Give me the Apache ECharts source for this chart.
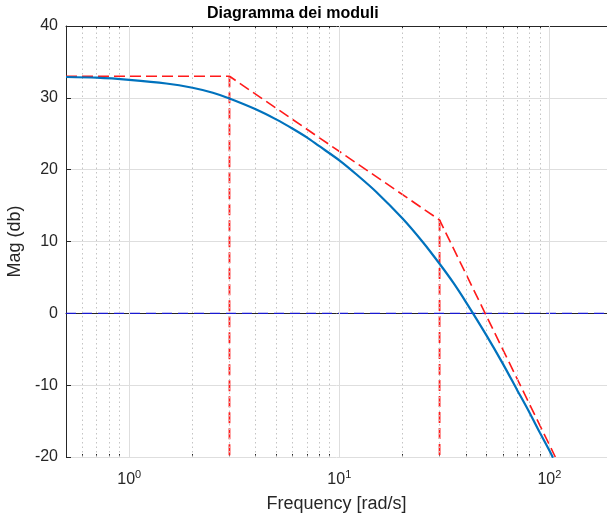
<!DOCTYPE html>
<html>
<head>
<meta charset="utf-8">
<script src="https://cdn.jsdelivr.net/npm/echarts@6/dist/echarts.min.js"></script>
<style>html,body{margin:0;padding:0;background:#fff;}#c{width:607px;height:513px;}</style>
</head>
<body>
<div id="c"></div>
<script>
// Magnitude curve
const freq = [0.5, 0.7, 1, 1.5, 2, 2.5, 3, 4, 5, 6, 7, 8, 10, 12, 15, 20, 25, 30, 35, 40, 50, 60, 70, 80, 90, 100, 104];
const magDb = [32.9, 32.8, 32.5, 32.0, 31.4, 30.7, 29.9, 28.4, 27.0, 25.7, 24.5, 23.3, 21.3, 19.4, 16.9, 13.2, 9.9, 6.9, 4.2, 1.6, -3.0, -7.0, -10.6, -13.7, -16.6, -19.1, -20.1];
// Asymptotic approximation
const asymFreq = [0.5, 3, 30, 106.7];
const asymDb = [33, 33, 13, -20];
// Break frequencies (vertical dashed lines)
const breakFreq = [3, 30];
const breakTop = [33, 13];
// Axis ticks
const xMajor = [1, 10, 100];
const xMinor = [0.6, 0.7, 0.8, 0.9, 2, 3, 4, 5, 6, 7, 8, 9, 20, 30, 40, 50, 60, 70, 80, 90];
const yTicks = [-20, -10, 0, 10, 20, 30, 40];
const xRange = [0.5, 188];
const yRange = [-20, 40];

const ink = '#262626';
const zip = (a, b) => a.map((v, i) => [v, b[i]]);

const baseX = {
  type: 'log', logBase: 10, min: xRange[0], max: xRange[1], gridIndex: 0,
  splitLine: {show: false}, axisLabel: {show: false}, axisTick: {show: false}, axisLine: {show: false}
};

const series = [];
// grid lines helper
series.push({
  type: 'line', data: [], silent: true, z: 1,
  markLine: {
    silent: true, symbol: 'none', label: {show: false}, animation: false,
    data: xMinor.map(v => ({xAxis: v, lineStyle: {color: '#c4c4c4', type: [1.5, 3], width: 1}}))
      .concat(xMajor.map(v => ({xAxis: v, lineStyle: {color: '#dedede', type: 'solid', width: 1}})))
  }
});
// zero line
series.push({
  type: 'line', data: [[xRange[0], 0], [xRange[1], 0]], symbol: 'none', z: 3,
  lineStyle: {color: '#1a1ad0', width: 1.2, type: [10, 6]}, animation: false
});
// asymptotes
series.push({
  type: 'line', data: zip(asymFreq, asymDb), symbol: 'none', z: 4,
  lineStyle: {color: '#ff1a1a', width: 1.6, type: [11, 5]}, animation: false
});
breakFreq.forEach((f, i) => {
  series.push({
    type: 'line', data: [[f, breakTop[i]], [f, yRange[0]]], symbol: 'none', z: 4,
    lineStyle: {color: '#ff1a1a', width: 1.8, type: [11, 5]}, animation: false
  });
});
// magnitude
series.push({
  type: 'line', data: zip(freq, magDb), symbol: 'none', smooth: 0.3, z: 5,
  lineStyle: {color: '#0072BD', width: 2.2}, animation: false
});

const option = {
  animation: false,
  title: {
    text: 'Diagramma dei moduli', left: 202, top: 1,
    textStyle: {fontFamily: 'Liberation Sans, Arial, sans-serif', fontSize: 16, fontWeight: 'bold', color: '#000'}
  },
  grid: {left: 66, top: 26, bottom: 56, right: 0, containLabel: false, outerBoundsMode: 'none'},
  xAxis: [
    Object.assign({}, baseX, {
      position: 'bottom',
      axisLine: {show: true, lineStyle: {color: ink, width: 1}},
      axisTick: {show: true, inside: true, length: 5, customValues: xMajor, lineStyle: {color: ink}},
      axisLabel: {
        show: true, customValues: xMajor, margin: 12, color: ink,
        fontFamily: 'Liberation Sans, Arial, sans-serif', fontSize: 16,
        formatter: v => '10{s|' + Math.round(Math.log10(v)) + '}',
        rich: {s: {fontSize: 11, verticalAlign: 'top', padding: [0, 0, 10, 0], color: ink, fontFamily: 'Liberation Sans, Arial, sans-serif'}}
      },
      name: 'Frequency [rad/s]', nameLocation: 'middle', nameGap: 38,
      nameTextStyle: {fontFamily: 'Liberation Sans, Arial, sans-serif', fontSize: 18, color: ink}
    }),
    Object.assign({}, baseX, {
      position: 'bottom',
      axisTick: {show: true, inside: true, length: 3, customValues: xMinor, lineStyle: {color: ink}}
    }),
    Object.assign({}, baseX, {
      position: 'top',
      axisLine: {show: true, lineStyle: {color: ink, width: 1}},
      axisTick: {show: true, inside: true, length: 5, customValues: xMajor, lineStyle: {color: ink}}
    }),
    Object.assign({}, baseX, {
      position: 'top',
      axisTick: {show: true, inside: true, length: 3, customValues: xMinor, lineStyle: {color: ink}}
    })
  ],
  yAxis: {
    type: 'value', min: yRange[0], max: yRange[1], interval: 10,
    axisLine: {show: true, lineStyle: {color: ink, width: 1}},
    axisTick: {show: true, inside: true, length: 5, lineStyle: {color: ink}},
    axisLabel: {color: ink, fontFamily: 'Liberation Sans, Arial, sans-serif', fontSize: 16, margin: 8},
    splitLine: {show: true, lineStyle: {color: '#dedede', width: 1}},
    name: 'Mag (db)', nameLocation: 'middle', nameGap: 30, nameRotate: 90,
    nameTextStyle: {fontFamily: 'Liberation Sans, Arial, sans-serif', fontSize: 18, color: ink}
  },
  series: series
};
echarts.init(document.getElementById('c'), null, {renderer: 'canvas'}).setOption(option);
</script>
</body>
</html>
